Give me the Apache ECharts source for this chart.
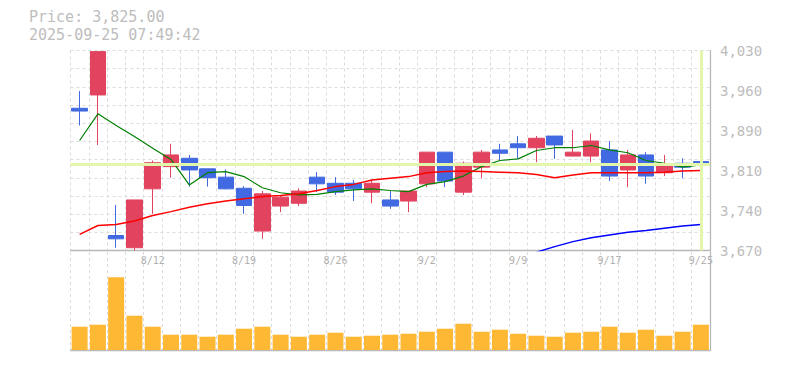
<!DOCTYPE html>
<html>
<head>
<meta charset="utf-8">
<script src="https://cdn.jsdelivr.net/npm/echarts@6/dist/echarts.min.js"></script>
<style>html,body{margin:0;padding:0;background:#fff;}#c{width:785px;height:370px;}</style>
</head>
<body>
<div id="c"></div>
<script>
const titleLine = 'Price: 3,825.00';
const timestamp = '2025-09-25 07:49:42';
const lastPrice = 3825;

const dates = ['8/5','8/6','8/7','8/8','8/12','8/13','8/14','8/15','8/18','8/19',
  '8/20','8/21','8/22','8/25','8/26','8/27','8/28','8/29','9/1','9/2',
  '9/3','9/4','9/5','9/8','9/9','9/10','9/11','9/12','9/16','9/17',
  '9/18','9/19','9/22','9/24','9/25'];

const opens  = [3926,3950,3697,3675,3781,3821,3836,3817,3802,3782,3705,3750,3755,3802,3791,3791,3775,3761,3759,3790,3847,3775,3820,3851,3862,3855,3876,3840,3840,3851,3815,3842,3810,3827,3830];
const closes = [3921,4028,3691,3761,3828,3842,3815,3801,3781,3751,3772,3766,3777,3790,3775,3781,3791,3750,3777,3847,3795,3827,3847,3845,3855,3872,3860,3847,3867,3804,3842,3804,3822,3820,3825];
const lows   = [3895,3860,3675,3670,3736,3801,3785,3785,3780,3736,3691,3739,3750,3775,3770,3759,3755,3745,3739,3784,3784,3770,3800,3831,3835,3829,3835,3840,3829,3795,3784,3790,3804,3800,3811];
const highs  = [3957,4028,3752,3761,3832,3862,3842,3817,3816,3786,3777,3770,3782,3811,3802,3797,3797,3777,3777,3847,3847,3830,3851,3862,3876,3876,3876,3887,3881,3867,3851,3847,3842,3836,3847];

const ma5  = [3868,3916,3895,3875,3854,3834,3788,3810,3812,3803,3783,3774,3770,3771,3776,3779,3781,3778,3776,3789,3794,3804,3821,3832,3835,3850,3855,3855,3859,3851,3846,3832,3827,3820,3824];
const ma25 = [3699,3715,3717,3723,3733,3740,3748,3754,3759,3763,3767,3769,3772,3778,3785,3789,3797,3800,3803,3810,3812,3813,3812,3811,3810,3807,3801,3806,3810,3810,3810,3810,3811,3813,3814];
const ma75 = [null,null,null,null,null,null,null,null,null,null,null,null,null,null,null,null,null,null,null,null,null,null,null,null,null,3667,3677,3686,3693,3698,3703,3706,3710,3714,3717];

const volumes = [23300,25300,72700,34300,23300,15300,15300,13300,15300,21300,23300,15300,13300,15300,17300,13300,14300,15300,16300,18300,21300,26300,18300,20300,16300,14300,13300,17300,18300,23300,17300,20300,14300,18300,25300];

const priceTickLabels = ['3,670','3,740','3,810','3,890','3,960','4,030'];

const candleData = dates.map((d, i) => [opens[i], closes[i], lows[i], highs[i]]);

const gridLine = { show: true, lineStyle: { color: '#dcdcdc', type: [3, 3], width: 1 } };
const axisCol = '#b8b8b8';
const mono = 'DejaVu Sans Mono';

const chart = echarts.init(document.getElementById('c'), null, { renderer: 'svg' });
chart.setOption({
  animation: false,
  backgroundColor: '#fff',
  title: {
    text: titleLine,
    subtext: timestamp,
    left: 29, top: 9, padding: 0, itemGap: 3,
    textStyle: { fontFamily: mono, fontSize: 15, fontWeight: 'normal', color: '#bdbdbd', lineHeight: 15 },
    subtextStyle: { fontFamily: mono, fontSize: 15, fontWeight: 'normal', color: '#bdbdbd', lineHeight: 15 }
  },
  grid: [
    { left: 70.5, right: 75, top: 50.5, height: 200 },
    { left: 70.5, right: 75, top: 252, height: 98 }
  ],
  xAxis: [
    {
      type: 'category', gridIndex: 0, data: dates, boundaryGap: true,
      axisLine: { show: true, lineStyle: { color: axisCol, width: 1.3 } },
      axisTick: { show: false, interval: 0 },
      axisLabel: { interval: (i) => i % 5 === 4, margin: 5, fontFamily: mono, fontSize: 10, color: '#b0b0b0' },
      splitLine: Object.assign({ interval: 0 }, gridLine)
    },
    {
      type: 'category', gridIndex: 1, data: dates, boundaryGap: true,
      axisLine: { show: true, lineStyle: { color: axisCol, width: 1.3 } },
      axisTick: { show: false },
      axisLabel: { show: false },
      splitLine: Object.assign({ interval: 0 }, gridLine)
    }
  ],
  yAxis: [
    { type: 'value', gridIndex: 0, min: 3670, max: 4030, show: false },
    {
      type: 'value', gridIndex: 0, min: 0, max: 5, interval: 1, position: 'right',
      axisLine: { show: true, lineStyle: { color: axisCol, width: 1.3 } },
      axisTick: { show: false },
      axisLabel: { formatter: (v) => priceTickLabels[v] || '', margin: 10, fontFamily: mono, fontSize: 14, color: '#bdbdbd', padding: [4, 0, 0, 0] },
      splitLine: { show: false }
    },
    {
      type: 'value', gridIndex: 0, min: 0, max: 11, interval: 1, position: 'right',
      axisLine: { show: false }, axisTick: { show: false }, axisLabel: { show: false },
      splitLine: gridLine
    },
    {
      type: 'value', gridIndex: 1, min: 0, max: 98000, position: 'right',
      axisLine: { show: true, lineStyle: { color: axisCol, width: 1.3 } },
      axisTick: { show: false }, axisLabel: { show: false }, splitLine: { show: false }
    }
  ],
  series: [
    {
      type: 'line', xAxisIndex: 0, yAxisIndex: 0, data: [], z: 1, silent: true,
      markLine: {
        silent: true, symbol: ['none', 'none'], label: { show: false },
        lineStyle: { color: '#e2f6ac', width: 3, type: 'solid' },
        data: [{ yAxis: lastPrice }, { xAxis: dates[dates.length - 1] }]
      }
    },
    {
      type: 'candlestick', xAxisIndex: 0, yAxisIndex: 0, data: candleData, barWidth: 16, z: 3,
      itemStyle: { color: '#e2435e', color0: '#4169e1', borderColor: '#e2435e', borderColor0: '#4169e1', borderWidth: 1 }
    },
    {
      type: 'line', xAxisIndex: 0, yAxisIndex: 0, data: ma5, showSymbol: false, symbol: 'none', z: 4,
      lineStyle: { color: '#008000', width: 1.2 }
    },
    {
      type: 'line', xAxisIndex: 0, yAxisIndex: 0, data: ma25, showSymbol: false, symbol: 'none', z: 4,
      lineStyle: { color: '#ff0000', width: 1.5 }
    },
    {
      type: 'line', xAxisIndex: 0, yAxisIndex: 0, data: ma75, showSymbol: false, symbol: 'none', z: 4, clip: true,
      lineStyle: { color: '#0000ff', width: 1.5 }
    },
    {
      type: 'bar', xAxisIndex: 1, yAxisIndex: 3, data: volumes, barWidth: 16,
      itemStyle: { color: '#ffb833' }
    }
  ]
});
</script>
</body>
</html>
